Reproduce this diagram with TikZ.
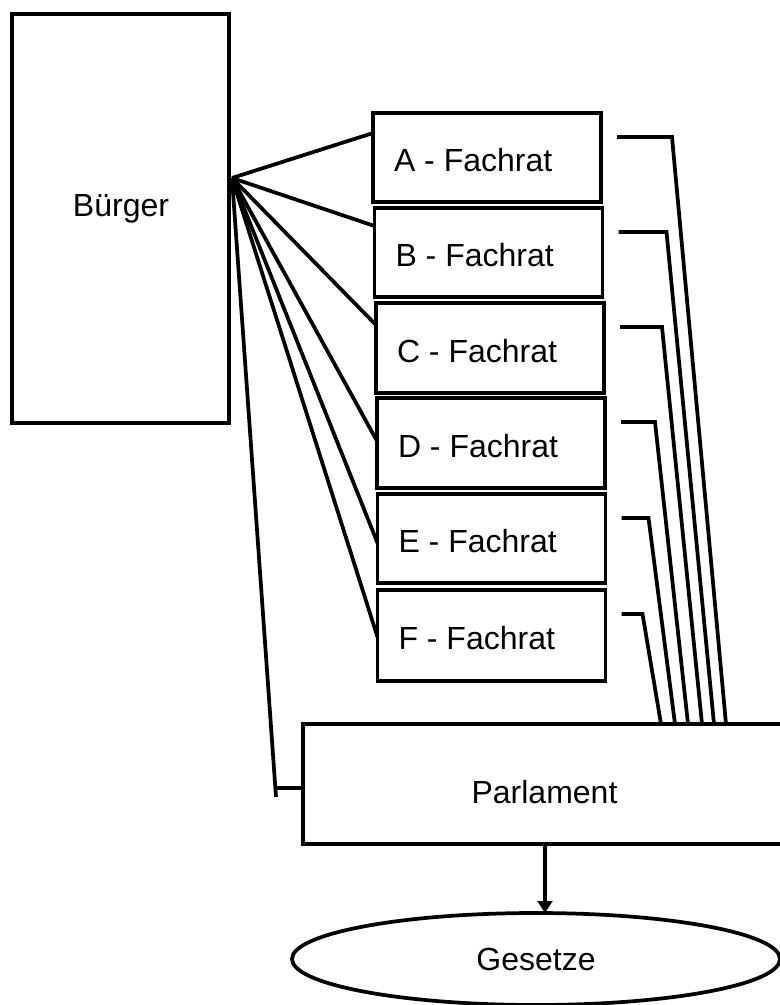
\documentclass[tikz,border=0pt]{standalone}
\usepackage{fontspec}
\setmainfont{Liberation Sans}
\usetikzlibrary{calc,arrows.meta,shapes.geometric}
\begin{document}
\begin{tikzpicture}[x=0.75pt,y=-0.75pt,
  lw/.style={line width=2.8pt},
  box/.style={draw,lw,rectangle,inner sep=0pt,outer sep=0pt},
  fbox/.style={box,minimum width={228*0.75pt},minimum height={89*0.75pt}},
  txt/.style={inner sep=0pt,outer sep=0pt,font=\fontsize{24}{29}\selectfont},
  conn/.style={lw,line join=miter},
  ]
\fill[white] (0,0) rectangle (780,1005);
\useasboundingbox (0,0) rectangle (780,1005);
\clip (0,0) rectangle (780,1005);

% Buerger
\node[box,minimum width={217*0.75pt},minimum height={409*0.75pt}] (burger) at (120.5,218.5) {};
\node[txt,anchor=base] (burgerT) at (121,217) {Bürger};

% Fachraete
\node[fbox] (A) at (487,157.5) {};
\node[fbox] (B) at (488.5,252.5) {};
\node[fbox,minimum height={90*0.75pt}] (C) at (490,348) {};
\node[fbox,minimum height={90*0.75pt}] (D) at (491,443) {};
\node[fbox] (E) at (491.5,538.5) {};
\node[fbox,minimum height={91*0.75pt}] (F) at (491.5,635.5) {};
\foreach \n in {A,B,C,D,E,F}{
  \node[txt,anchor=west] (\n-t) at ($(\n.west)+(21,3)$) {\n\ - Fachrat};
}

% Parlament
\node[box,minimum width={484*0.75pt},minimum height={120*0.75pt}] (parl) at (545,784) {};
\node[txt,anchor=base] (parlT) at (544.5,803) {Parlament};

% Gesetze
\node[draw,lw,ellipse,minimum width={488*0.75pt},minimum height={92*0.75pt},inner sep=0pt,outer sep=0pt,font=\fontsize{24}{29}\selectfont] (ges) at (536,959) {Gesetze};

% Buerger connectors
\coordinate (hub) at (232,178);
\foreach \n/\o in {A/20,B/18,C/22,D/43,E/49,F/47}{
  \draw[conn] (hub) -- ($(\n.north west)+(0,\o)$);
}
\coordinate (pend) at (276,797);
\coordinate (tick) at (276,788);
\draw[conn] (hub) -- (pend);
\draw[conn] (tick) -- (tick -| parl.west);

% Fachrat -> Parlament connectors
\foreach \n/\len/\dx in {A/55/423,B/48/411,C/42/399,D/34/385,E/27/372,F/21/358}{
  \coordinate (\n-s) at ($(\n.north east)+(16,24)$);
  \draw[conn] (\n-s) -- ++(\len,0) -- ($(parl.north west)+(\dx,0)$);
}

% Parlament -> Gesetze
\draw[lw,-{Triangle[width=11pt,length=9pt]}] (parl.south) -- (parl.south |- ges.north);
\end{tikzpicture}
\end{document}
